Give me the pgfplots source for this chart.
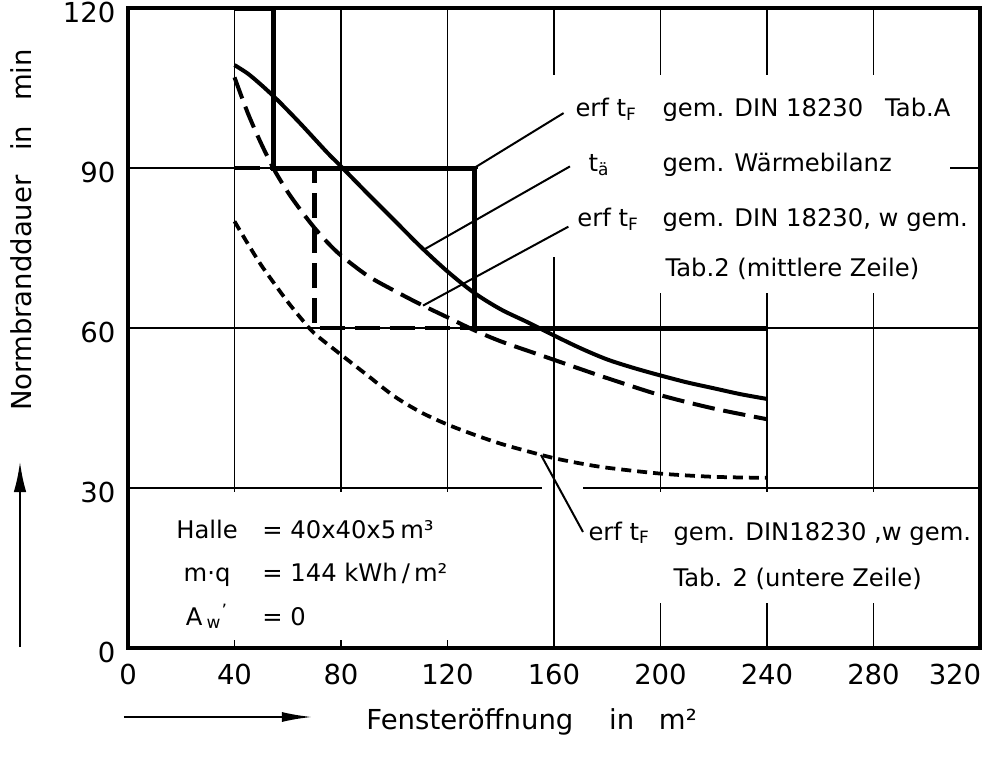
\documentclass[border=0pt]{standalone}
\usepackage{pgfplots}
\pgfplotsset{compat=1.18}
\usepackage{fontspec}
\setmainfont{DejaVu Sans}
\usetikzlibrary{arrows.meta}
\newcommand\ann{\fontsize{9.7}{11.6}\selectfont}
\newcommand\lab{\fontsize{11}{13}\selectfont}
\newcommand\tF{t\textsubscript{F}}

\begin{document}
\begin{tikzpicture}
\begin{axis}[
  at={(51.2pt,-259.2pt)}, anchor=south west,
  scale only axis, width=340.8pt, height=256pt,
  xmin=0, xmax=320, ymin=0, ymax=120,
  xtick={0,40,...,320}, ytick={0,30,...,120},
  xticklabels={0,40,80,120,160,200,240,280,\hbox{\kern-20pt 320}},
  /pgf/number format/assume math mode=true,
  ticklabel style={font=\lab},
  xticklabel style={yshift=-3pt},
  yticklabel style={xshift=-1.5pt, yshift=-1.6pt},
  tick style={draw=none},
  grid=major,
  major grid style={black, line width=0.7pt},
  axis line style={line width=1.8pt},
]

% Textfelder (Gitter dort ausgespart)
\fill[white] (131.5,73.3) rectangle (308.7,107.4);
\fill[white] (192.3,66.6) rectangle (308.7,73.3);
\fill[white] (167.9,8.4) rectangle (311.9,29.25);
\fill[white] (1.5,1.5) rectangle (154.7,29.25);
\fill[white] (155.5,29.4) rectangle (159.6,30.6);
\fill[white] (160.4,29.4) rectangle (171,30.6);

% t_ae gem. Waermebilanz
\addplot[black, line width=1.6pt, smooth, tension=0.5] coordinates {
  (40,109.3) (45,107.7) (50,105.6) (55,103.3) (60,100.8) (65,98.2) (70,95.5)
  (75,92.8) (80,90.3) (90,85.2) (100,80.2) (110,75.2) (120,70.6) (130,66.6)
  (140,63.5) (150,61.1) (160,58.6) (170,56.2) (180,54.1) (190,52.5)
  (200,51.1) (210,49.8) (220,48.7) (230,47.6) (240,46.7)
};

% erf t_F, Tab.2 mittlere Zeile
\addplot[black, line width=1.6pt, dash pattern=on 9pt off 3.5pt, smooth, tension=0.5] coordinates {
  (40,107) (45,100.3) (50,94.6) (55,89.6) (60,85.5) (65,82) (70,78.8)
  (75,76) (80,73.6) (90,69.8) (100,67) (110,64.4) (120,62) (130,59.6)
  (140,57.5) (155,54.9) (170,52.3) (180,50.6) (200,47.4) (220,44.9) (240,42.9)
};

% erf t_F, Tab.2 untere Zeile
\addplot[black, line width=1.5pt, dash pattern=on 4pt off 2.4pt, smooth, tension=0.5] coordinates {
  (40,80) (45,75.8) (50,71.8) (55,68.3) (60,64.9) (65,61.8) (70,59)
  (80,55) (90,51.1) (100,47.2) (110,44.2) (120,41.9) (130,40) (140,38.3)
  (150,36.9) (160,35.6) (170,34.6) (180,33.8) (200,32.7) (220,32.1) (240,31.9)
};

% Stufen
\addplot[black, line width=1.8pt, dash pattern=on 10pt off 4pt, line join=miter] coordinates {
  (40,90) (70,90) (70,60) (240,60)
};
\addplot[black, line width=2pt, line join=miter] coordinates {
  (40,120) (54.5,120) (54.5,90) (130,90) (130,60) (240,60)
};

% Hinweislinien
\draw[line width=0.8pt] (130,90) -- (163.6,100.3);
\draw[line width=0.8pt] (110.8,74.6) -- (166,90.3);
\draw[line width=0.8pt] (110.8,64.2) -- (165.4,79);
\draw[line width=0.8pt] (155.1,36.2) -- (170.9,21.75);

\begin{scope}[every node/.style={inner sep=0pt, font=\ann}]
\node[anchor=base west] at (167.9,99.6) {erf \tF};
\node[anchor=base west] at (200.6,99.6) {gem. DIN 18230\hspace{0.9em}Tab.A};
\node[anchor=base west] at (172.8,89.3) {t\textsubscript{ä}};
\node[anchor=base west] at (200.6,89.3) {gem. Wärmebilanz};
\node[anchor=base west] at (168.6,79.0) {erf \tF};
\node[anchor=base west] at (200.6,79.0) {gem. DIN 18230, w gem.};
\node[anchor=base west] at (201.7,69.6) {Tab.2 (mittlere Zeile)};
\node[anchor=base west] at (172.8,20.25) {erf \tF};
\node[anchor=base west] at (204.7,20.25) {gem. DIN18230 ,w gem.};
\node[anchor=base west] at (204.7,11.5) {Tab. 2 (untere Zeile)};

\node[anchor=base] at (29.7,20.6) {Halle};
\node[anchor=base] at (29.7,12.4) {m·q};
\node[anchor=base] at (29.7,4.3) {A\,\textsubscript{w}\textsuperscript{'}};
\node[anchor=base west] at (50.3,20.6) {= 40x40x5\,m³};
\node[anchor=base west] at (50.3,12.4) {= 144 kWh\,/\,m²};
\node[anchor=base west] at (50.3,4.3) {= 0};
\end{scope}

\end{axis}

% Achsenbeschriftungen mit Pfeilen (Koordinaten in Pixeln des Vorbilds)
\begin{scope}[x=0.4pt, y=-0.4pt]
\node[rotate=90, inner sep=0pt, font=\lab] at (21,230)
  {Normbranddauer\hspace{0.9em}in\hspace{0.9em}min};
\draw[line width=0.8pt, -{Latex[length=12pt, width=5pt]}] (20,647) -- (20,462);
\draw[line width=0.8pt, -{Latex[length=12pt, width=4pt]}] (124,717) -- (312,717);
\node[anchor=base west, inner sep=0pt, font=\lab] at (366,730)
  {Fensteröffnung\hspace{1.3em}in\hspace{0.9em}m²};
\end{scope}

\pgfresetboundingbox
\path[use as bounding box] (0,0) rectangle (393.6pt,-308pt);
\end{tikzpicture}
\end{document}
